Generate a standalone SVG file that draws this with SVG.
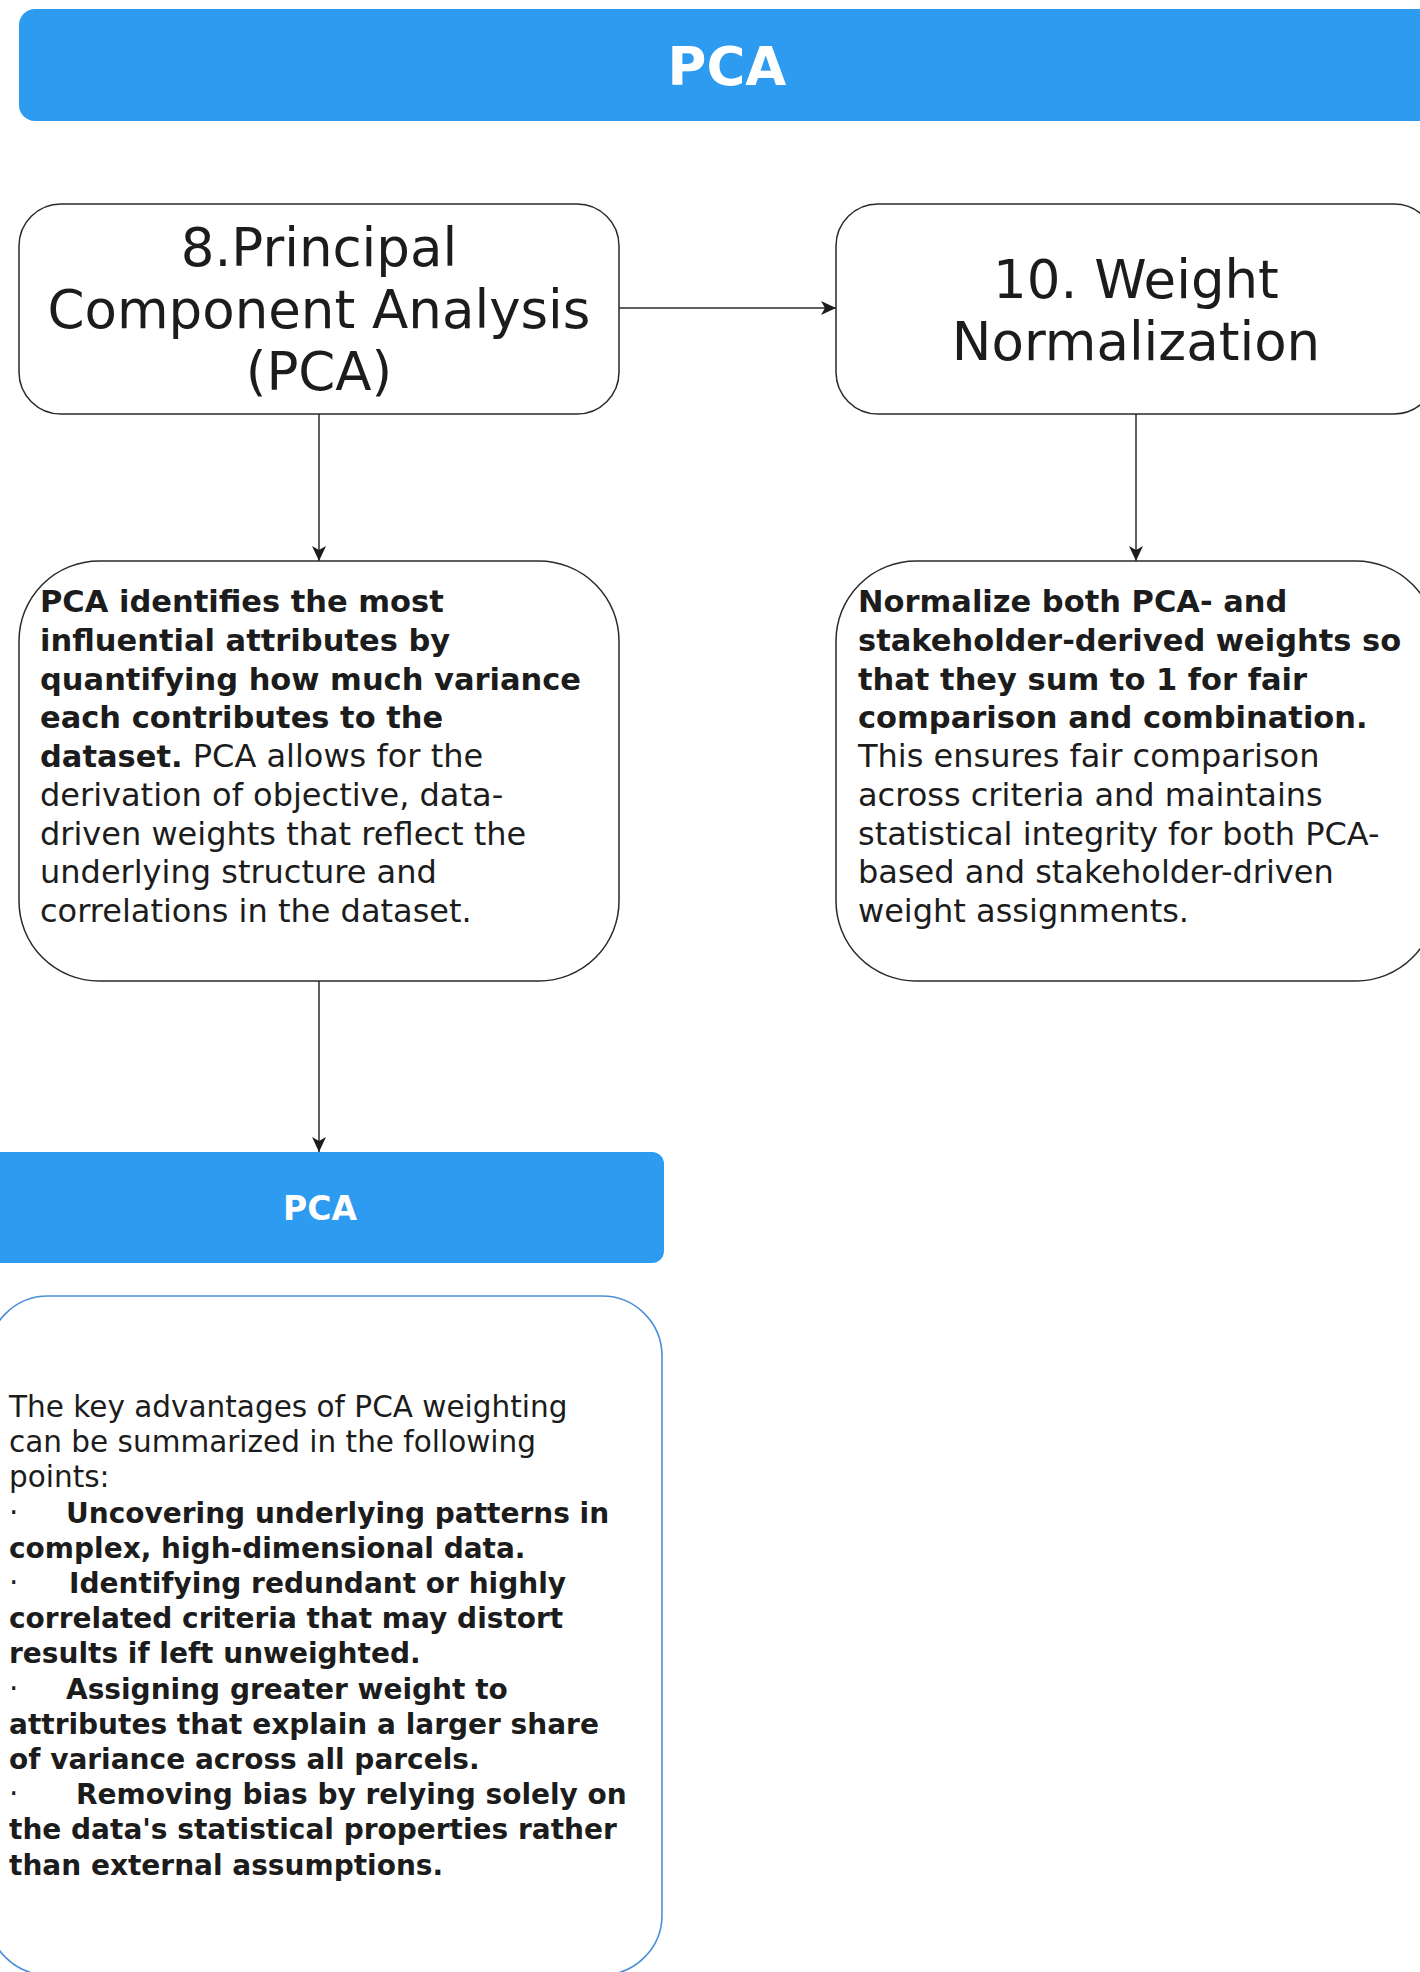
<svg xmlns="http://www.w3.org/2000/svg" width="1420" height="1972" viewBox="0 0 1420 1972">
  <style>
    .banner { fill: #2D9BF0; }
    .banner-text { font-family: "DejaVu Sans", "Liberation Sans", sans-serif; font-weight: bold; fill: #ffffff; text-anchor: middle; }
    .step { fill: #ffffff; stroke: #2a2a2a; stroke-width: 1.5; }
    .step-title { font-family: "DejaVu Sans", "Liberation Sans", sans-serif; font-size: 53px; fill: #1c1c1c; text-anchor: middle; }
    .desc { font-family: "DejaVu Sans", "Liberation Sans", sans-serif; font-size: 32px; fill: #1c1c1c; }
    .desc .b { font-weight: bold; font-size: 30.5px; }
    .note-box { fill: #ffffff; stroke: #4A90D9; stroke-width: 1.6; }
    .note { font-family: "DejaVu Sans", "Liberation Sans", sans-serif; font-size: 29.5px; fill: #1c1c1c; }
    .note .b { font-weight: bold; font-size: 28px; }
    .link { fill: none; stroke: #2a2a2a; stroke-width: 1.5; marker-end: url(#arrow); }
  </style>
  <defs>
    <marker id="arrow" markerUnits="userSpaceOnUse" markerWidth="16" markerHeight="16" refX="15" refY="8" orient="auto">
      <path d="M0,1 L15,8 L0,15 L4,8 z" fill="#1c1c1c"/>
    </marker>
  </defs>

  <rect width="1420" height="1972" fill="#ffffff"/>

  <!-- header bar -->
  <g id="header">
    <rect class="banner" x="19" y="9" width="1417" height="112" rx="16"/>
    <text class="banner-text" x="727" y="85" font-size="53">PCA</text>
  </g>

  <!-- connectors -->
  <g id="connectors">
    <path class="link" d="M619,308 H836"/>
    <path class="link" d="M319,414 V561"/>
    <path class="link" d="M1136,414 V561"/>
    <path class="link" d="M319,981 V1152"/>
  </g>

  <!-- step 8 -->
  <g id="step-pca">
    <rect class="step" x="19" y="204" width="600" height="210" rx="42"/>
    <text class="step-title" x="319" y="266">8.Principal</text>
    <text class="step-title" x="319" y="328">Component Analysis</text>
    <text class="step-title" x="319" y="390">(PCA)</text>
  </g>

  <!-- step 10 -->
  <g id="step-normalization">
    <rect class="step" x="836" y="204" width="600" height="210" rx="42"/>
    <text class="step-title" x="1136" y="298">10. Weight</text>
    <text class="step-title" x="1136" y="360">Normalization</text>
  </g>

  <!-- PCA description -->
  <g id="pca-description">
    <rect class="step" x="19" y="561" width="600" height="420" rx="80"/>
    <text class="desc">
      <tspan class="b" x="40" y="612">PCA identifies the most</tspan>
      <tspan class="b" x="40" y="650.75">influential attributes by</tspan>
      <tspan class="b" x="40" y="689.5">quantifying how much variance</tspan>
      <tspan class="b" x="40" y="728.25">each contributes to the</tspan>
      <tspan class="b" x="40" y="767">dataset.</tspan><tspan> PCA allows for the</tspan>
      <tspan x="40" y="805.75">derivation of objective, data-</tspan>
      <tspan x="40" y="844.5">driven weights that reflect the</tspan>
      <tspan x="40" y="883.25">underlying structure and</tspan>
      <tspan x="40" y="922">correlations in the dataset.</tspan>
    </text>
  </g>

  <!-- normalization description -->
  <g id="normalization-description">
    <rect class="step" x="836" y="561" width="600" height="420" rx="80"/>
    <text class="desc">
      <tspan class="b" x="858" y="612">Normalize both PCA- and</tspan>
      <tspan class="b" x="858" y="650.75">stakeholder-derived weights so</tspan>
      <tspan class="b" x="858" y="689.5">that they sum to 1 for fair</tspan>
      <tspan class="b" x="858" y="728.25">comparison and combination.</tspan>
      <tspan x="858" y="767">This ensures fair comparison</tspan>
      <tspan x="858" y="805.75">across criteria and maintains</tspan>
      <tspan x="858" y="844.5">statistical integrity for both PCA-</tspan>
      <tspan x="858" y="883.25">based and stakeholder-driven</tspan>
      <tspan x="858" y="922">weight assignments.</tspan>
    </text>
  </g>

  <!-- section bar -->
  <g id="pca-section">
    <rect class="banner" x="-24" y="1152" width="688" height="111" rx="12"/>
    <text class="banner-text" x="320" y="1220" font-size="33">PCA</text>
  </g>

  <!-- advantages panel -->
  <g id="pca-advantages">
    <rect class="note-box" x="-12" y="1296" width="674" height="679" rx="60"/>
    <text class="note">
      <tspan x="9" y="1417">The key advantages of PCA weighting</tspan>
      <tspan x="9" y="1452.2">can be summarized in the following</tspan>
      <tspan x="9" y="1487.4">points:</tspan>
      <tspan x="9" y="1522.6">·</tspan><tspan class="b" x="66" y="1522.6">Uncovering underlying patterns in</tspan>
      <tspan class="b" x="9" y="1557.8">complex, high-dimensional data.</tspan>
      <tspan x="9" y="1593">·</tspan><tspan class="b" x="69" y="1593">Identifying redundant or highly</tspan>
      <tspan class="b" x="9" y="1628.2">correlated criteria that may distort</tspan>
      <tspan class="b" x="9" y="1663.4">results if left unweighted.</tspan>
      <tspan x="9" y="1698.6">·</tspan><tspan class="b" x="66" y="1698.6">Assigning greater weight to</tspan>
      <tspan class="b" x="9" y="1733.8">attributes that explain a larger share</tspan>
      <tspan class="b" x="9" y="1769">of variance across all parcels.</tspan>
      <tspan x="9" y="1804.2">·</tspan><tspan class="b" x="76" y="1804.2">Removing bias by relying solely on</tspan>
      <tspan class="b" x="9" y="1839.4">the data's statistical properties rather</tspan>
      <tspan class="b" x="9" y="1874.6">than external assumptions.</tspan>
    </text>
  </g>
</svg>
